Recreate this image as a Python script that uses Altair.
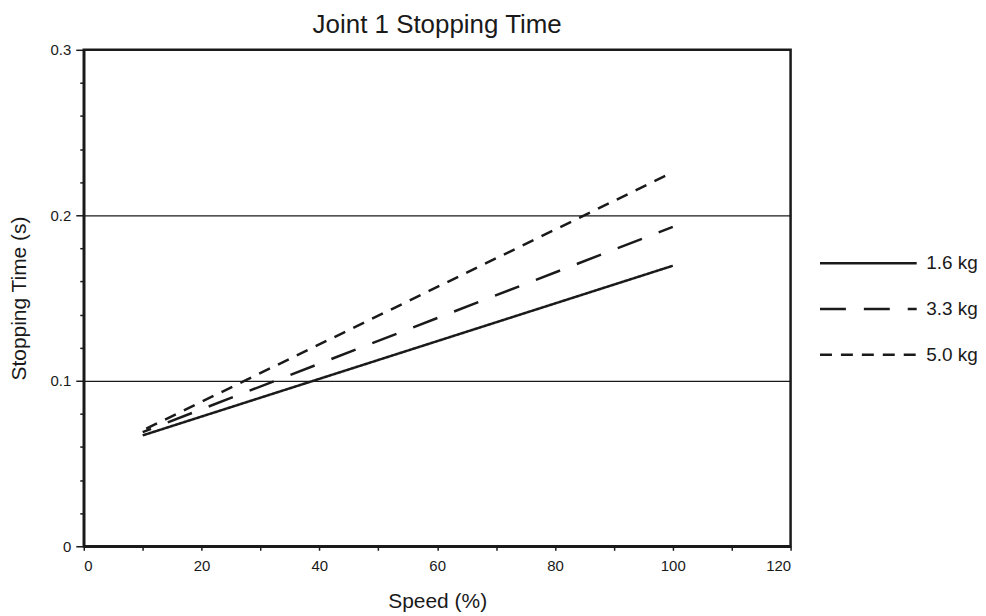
import altair as alt
import pandas as pd

speed = [10, 100]
load_labels = ["1.6 kg", "3.3 kg", "5.0 kg"]
time_16 = [0.067, 0.1695]
time_33 = [0.069, 0.193]
time_50 = [0.070, 0.226]

x_ticks = list(range(0, 121, 10))
y_ticks = [round(i * 0.02, 2) for i in range(16)]

rows = []
for lab, vals in zip(load_labels, [time_16, time_33, time_50]):
    for s, t in zip(speed, vals):
        rows.append({"Speed": s, "Time": t, "Load": lab})
df = pd.DataFrame(rows)

FONT = "Liberation Sans"
INK = "#1a1a1a"
major_y = "abs(datum.value*10 - round(datum.value*10)) < 0.001"

chart = alt.Chart(df).mark_line(strokeWidth=2.5, color=INK, strokeDashOffset=17).encode(
    x=alt.X(
        "Speed:Q",
        scale=alt.Scale(domain=[0, 120], nice=False, zero=False),
        axis=alt.Axis(
            values=x_ticks,
            title="Speed (%)",
            labelExpr="datum.value % 20 == 0 ? datum.label : ''",
            tickSize=4,
            tickWidth=1.5,
            tickColor=INK,
            grid=False,
            labelFontSize=15,
            labelPadding=8,
            labelFont=FONT,
            labelColor=INK,
            titleFont=FONT,
            titleFontSize=21,
            titleFontWeight="normal",
            titleColor=INK,
            titlePadding=17,
            domainColor=INK,
            domainWidth=2.5,
        ),
    ),
    y=alt.Y(
        "Time:Q",
        scale=alt.Scale(domain=[0, 0.3], nice=False, zero=False),
        axis=alt.Axis(
            values=y_ticks,
            title="Stopping Time (s)",
            labelExpr=major_y + " ? format(datum.value, '.1~f') : ''",
            tickSize={"condition": {"test": major_y, "value": 8}, "value": 4},
            tickWidth=1.5,
            tickColor=INK,
            grid=True,
            gridColor=INK,
            gridWidth=1.2,
            gridOpacity={"condition": {"test": major_y, "value": 1}, "value": 0},
            labelFontSize=15,
            labelPadding=5,
            labelFont=FONT,
            labelColor=INK,
            titleFont=FONT,
            titleFontSize=21,
            titleFontWeight="normal",
            titleColor=INK,
            titlePadding=21,
            domainColor=INK,
            domainWidth=2.5,
        ),
    ),
    strokeDash=alt.StrokeDash(
        "Load:N",
        scale=alt.Scale(domain=load_labels, range=[[1, 0], [26, 18], [12, 9]]),
        legend=alt.Legend(
            title=None,
            orient="none",
            legendX=737,
            legendY=204,
            symbolType="stroke",
            symbolSize=9409,
            symbolStrokeWidth=2.5,
            symbolStrokeColor=INK,
            clipHeight=20,
            labelFontSize=19,
            labelFont=FONT,
            labelColor=INK,
            labelOffset=8,
            rowPadding=26,
        ),
    ),
).properties(
    width=709,
    height=498,
    padding={"left": 0, "top": 3, "right": 0, "bottom": 0},
    title=alt.TitleParams(
        "Joint 1 Stopping Time",
        fontSize=26,
        font=FONT,
        fontWeight="normal",
        color=INK,
        anchor="middle",
        frame="group",
        offset=5,
    ),
).configure_view(stroke=INK, strokeWidth=2.5)

chart.save("out.html", embed_options={"renderer": "svg", "actions": False})
